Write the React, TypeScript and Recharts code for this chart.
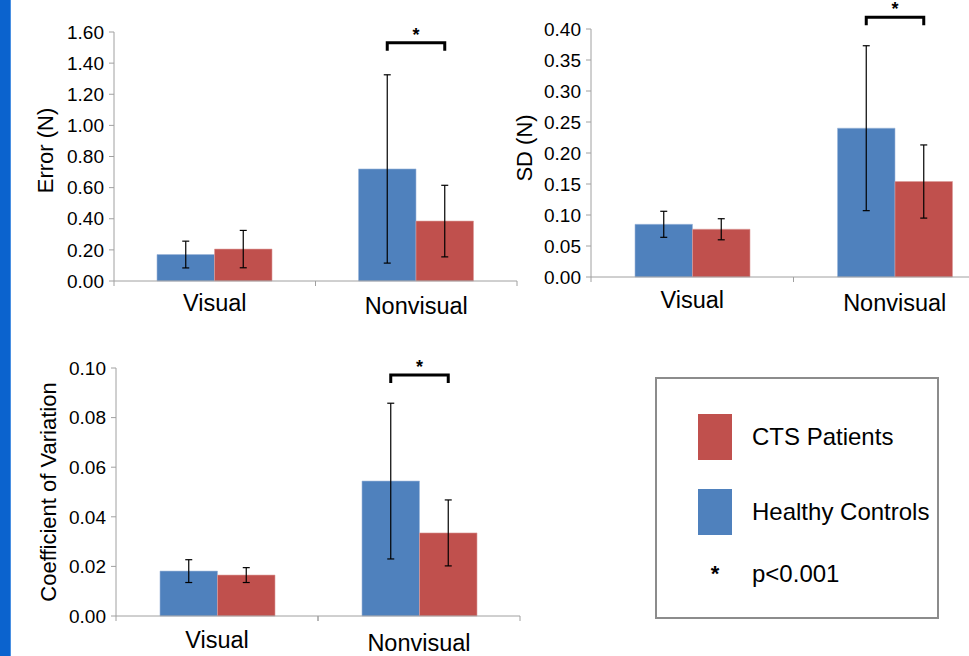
import React from 'react';
import { BarChart, Bar, XAxis, YAxis, ErrorBar } from 'recharts';

const categories = ['Visual', 'Nonvisual'];
const seriesNames = ['Healthy Controls', 'CTS Patients'];

// Error (N)
const errorHC = [0.17, 0.72];
const errorHCsd = [0.086, 0.605];
const errorCTS = [0.205, 0.385];
const errorCTSsd = [0.12, 0.23];
const errorTicks = [0, 0.2, 0.4, 0.6, 0.8, 1.0, 1.2, 1.4, 1.6];

// SD (N)
const sdHC = [0.085, 0.24];
const sdHCsd = [0.021, 0.133];
const sdCTS = [0.077, 0.154];
const sdCTSsd = [0.017, 0.059];
const sdTicks = [0, 0.05, 0.1, 0.15, 0.2, 0.25, 0.3, 0.35, 0.4];

// Coefficient of Variation
const cvHC = [0.0181, 0.0544];
const cvHCsd = [0.0046, 0.0314];
const cvCTS = [0.0165, 0.0335];
const cvCTSsd = [0.003, 0.0133];
const cvTicks = [0, 0.02, 0.04, 0.06, 0.08, 0.1];

// significance bracket level (data units) over Nonvisual
const sigLevel = { error: 1.531, sd: 0.419, cv: 0.0972 };

const BLUE = '#4F81BD';
const RED = '#C0504D';
const AXIS = '#a0a0a0';
const FONT = '"Liberation Sans", Arial, sans-serif';

const buildRows = (hc: number[], hcSd: number[], cts: number[], ctsSd: number[]) =>
  categories.map((c, i) => ({ name: c, hc: hc[i], hcErr: hcSd[i], cts: cts[i], ctsErr: ctsSd[i] }));

const CategoryTick = ({ x, y, payload, index, bandW, dy }: any) => (
  <g>
    <line x1={x - bandW / 2} y1={y} x2={x - bandW / 2} y2={y + 5} stroke={AXIS} />
    <line x1={x + bandW / 2} y1={y} x2={x + bandW / 2} y2={y + 5} stroke={AXIS} />
    <text x={x} y={y + dy + (index === 1 ? 3 : 0)} textAnchor="middle" fontSize={23.5} fill="#000" fontFamily={FONT}>
      {payload.value}
    </text>
  </g>
);

const makeBracket = (level: number) => (props: any) => {
  if (props.index !== 1) return null;
  const vb = props.viewBox ?? props;
  const { x, y, width, height } = vb;
  const value = props.value ?? 1;
  const bottom = y + height;
  const yTop = bottom - (level / value) * height;
  const x1 = x + width / 2;
  const x2 = x + width * 1.5;
  return (
    <g>
      <path d={`M${x1},${yTop + 8} L${x1},${yTop} L${x2},${yTop} L${x2},${yTop + 8}`} stroke="#000" strokeWidth={3} fill="none" />
      <text x={(x1 + x2) / 2} y={yTop - 2} textAnchor="middle" fontSize={18} fontWeight="bold" fill="#000" fontFamily={FONT}>
        *
      </text>
    </g>
  );
};

interface PanelProps {
  rows: any[];
  ticks: number[];
  title: string;
  level: number;
  width: number;
  height: number;
  top: number;
  right: number;
  yAxisW: number;
  xAxisH: number;
  titleX: number;
  titleShift: number;
  labelDy: number;
}

function Panel(p: PanelProps) {
  const plotW = p.width - p.yAxisW - p.right;
  const bandW = plotW / categories.length;
  const max = p.ticks[p.ticks.length - 1];
  return (
    <BarChart
      width={p.width}
      height={p.height}
      data={p.rows}
      margin={{ top: p.top, right: p.right, left: 0, bottom: 0 }}
      barGap={0}
      barSize={57.5}
    >
      <XAxis
        dataKey="name"
        height={p.xAxisH}
        stroke={AXIS}
        tickLine={false}
        tickSize={0}
        tickMargin={0}
        interval={0}
        tick={<CategoryTick bandW={bandW} dy={p.labelDy} />}
      />
      <YAxis
        width={p.yAxisW}
        domain={[0, max]}
        ticks={p.ticks}
        interval={0}
        stroke={AXIS}
        tickSize={5}
        tickMargin={5}
        tick={{ fill: '#000', fontSize: 19, fontFamily: FONT }}
        tickFormatter={(v: number) => v.toFixed(2)}
        label={(lp: any) => {
          const vb = lp.viewBox;
          const cx = p.titleX;
          const cy = vb.y + vb.height / 2 + p.titleShift;
          return (
            <text
              x={cx}
              y={cy}
              transform={`rotate(-90, ${cx}, ${cy})`}
              textAnchor="middle"
              dominantBaseline="central"
              fontSize={22}
              fill="#000"
              fontFamily={FONT}
            >
              {p.title}
            </text>
          );
        }}
      />
      <Bar dataKey="hc" name={seriesNames[0]} fill={BLUE} stroke="#9db7da" strokeWidth={0.6} isAnimationActive={false} label={makeBracket(p.level)}>
        <ErrorBar dataKey="hcErr" width={3.5} stroke="#000" strokeWidth={1.2} direction="y" isAnimationActive={false} />
      </Bar>
      <Bar dataKey="cts" name={seriesNames[1]} fill={RED} stroke="#dc9c9a" strokeWidth={0.6} isAnimationActive={false}>
        <ErrorBar dataKey="ctsErr" width={3.5} stroke="#000" strokeWidth={1.2} direction="y" isAnimationActive={false} />
      </Bar>
    </BarChart>
  );
}

export default function App() {
  const legendItems = [
    { label: seriesNames[1], color: RED },
    { label: seriesNames[0], color: BLUE },
  ];
  return (
    <div
      style={{
        position: 'absolute',
        left: 0,
        top: 0,
        width: 969,
        height: 656,
        overflow: 'hidden',
        background: '#fff',
        fontFamily: FONT,
      }}
    >
      <div style={{ position: 'absolute', left: 0, top: 0, width: 10, height: 656, background: '#0B63CE', borderRight: '1px solid #4a90e2' }} />

      <div style={{ position: 'absolute', left: 0, top: 0 }}>
        <Panel
          rows={buildRows(errorHC, errorHCsd, errorCTS, errorCTSsd)}
          ticks={errorTicks}
          title="Error (N)"
          level={sigLevel.error}
          width={530}
          height={330}
          top={32}
          right={13}
          yAxisW={114}
          xAxisH={49}
          titleX={45}
          titleShift={-6}
          labelDy={30}
        />
      </div>

      <div style={{ position: 'absolute', left: 480, top: 0 }}>
        <Panel
          rows={buildRows(sdHC, sdHCsd, sdCTS, sdCTSsd)}
          ticks={sdTicks}
          title="SD (N)"
          level={sigLevel.sd}
          width={530}
          height={330}
          top={29}
          right={14}
          yAxisW={111}
          xAxisH={53}
          titleX={44}
          titleShift={-5}
          labelDy={31}
        />
      </div>

      <div style={{ position: 'absolute', left: 0, top: 340 }}>
        <Panel
          rows={buildRows(cvHC, cvHCsd, cvCTS, cvCTSsd)}
          ticks={cvTicks}
          title="Coefficient of Variation"
          level={sigLevel.cv}
          width={530}
          height={316}
          top={28}
          right={10}
          yAxisW={116}
          xAxisH={40}
          titleX={48}
          titleShift={0}
          labelDy={32}
        />
      </div>

      {/* legend box */}
      <div
        style={{
          position: 'absolute',
          left: 655,
          top: 377,
          width: 284,
          height: 242,
          boxSizing: 'border-box',
          border: '2px solid #8c8c8c',
        }}
      >
        {legendItems.map((it, i) => (
          <div key={it.label} style={{ position: 'absolute', left: 41, top: 35 + i * 75, height: 46, display: 'flex', alignItems: 'center' }}>
            <div style={{ width: 34, height: 46, background: it.color }} />
            <span style={{ marginLeft: 20, fontSize: 24, color: '#000', whiteSpace: 'nowrap' }}>{it.label}</span>
          </div>
        ))}
        <div style={{ position: 'absolute', left: 41, top: 180, height: 30, display: 'flex', alignItems: 'center' }}>
          <span style={{ width: 34, textAlign: 'center', fontSize: 22, fontWeight: 'bold' }}>*</span>
          <span style={{ marginLeft: 20, fontSize: 24, color: '#000' }}>p&lt;0.001</span>
        </div>
      </div>
    </div>
  );
}
